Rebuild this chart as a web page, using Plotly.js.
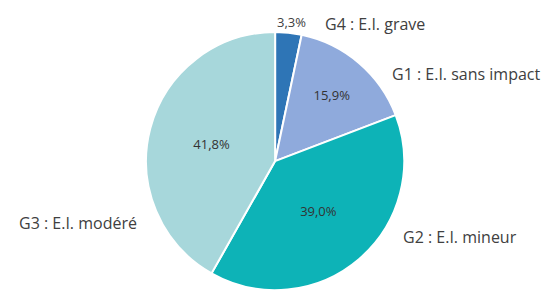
<!DOCTYPE html>
<html><head><meta charset="utf-8">
<script src="https://cdn.plot.ly/plotly-3.0.1.min.js"></script>
<style>html,body{margin:0;padding:0;background:#fff}</style>
</head><body><div id="chart" style="width:553px;height:291px"></div>
<script>
const categories = ["G4 : E.I. grave", "G1 : E.I. sans impact", "G2 : E.I. mineur", "G3 : E.I. modéré"];
const values = [3.3, 15.9, 39.0, 41.8];
const colors = ["#2e75b6", "#8faadc", "#0db3b7", "#a7d7db"];
const textPositions = ["none", "inside", "inside", "inside"];

const fmt = v => v.toFixed(1).replace(".", ",") + "%";

const trace = {
  type: "pie",
  labels: categories,
  values: values,
  sort: false,
  direction: "clockwise",
  rotation: 0,
  marker: {colors: colors, line: {color: "#ffffff", width: 2}},
  texttemplate: "%{value:.1f}%",
  textposition: textPositions,
  insidetextorientation: "horizontal",
  textfont: {family: "'Open Sans', sans-serif", size: 13, color: "#333333"},
  hoverinfo: "none",
  showlegend: false,
  domain: {x: [0.264, 0.731], y: [0.003, 0.89]}
};

const labelFont = {family: "'Open Sans', sans-serif", size: 16, color: "#404040"};
const annos = [
  {text: categories[0], x: 323/553, y: 1 - 24/291},
  {text: categories[1], x: 390/553, y: 1 - 74/291},
  {text: categories[2], x: 401/553, y: 1 - 237/291},
  {text: categories[3], x: 17/553, y: 1 - 223/291}
].map(a => Object.assign(a, {xref: "paper", yref: "paper", xanchor: "left", yanchor: "middle", showarrow: false, font: labelFont}));
annos.push({text: fmt(values[0]), x: 291/553, y: 1 - 22/291, xref: "paper", yref: "paper",
  xanchor: "center", yanchor: "middle", showarrow: false,
  font: {family: "'Open Sans', sans-serif", size: 13, color: "#404040"}});

Plotly.newPlot("chart", [trace], {
  width: 553, height: 291,
  margin: {l: 0, r: 0, t: 0, b: 0},
  paper_bgcolor: "#ffffff",
  separators: ", ",
  annotations: annos
}, {staticPlot: true});
</script></body></html>
